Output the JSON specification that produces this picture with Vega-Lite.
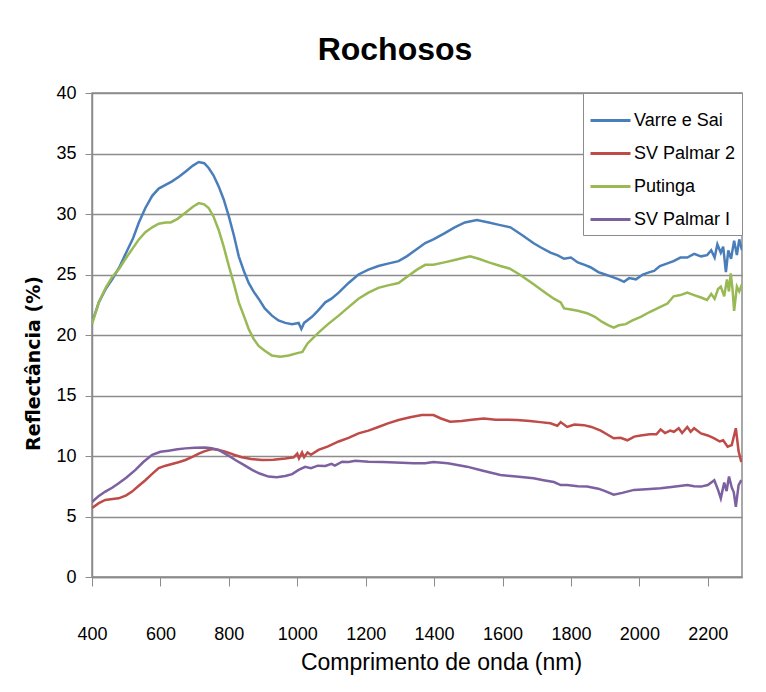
{
  "$schema": "https://vega.github.io/schema/vega-lite/v6.json",
  "width": 650,
  "height": 484,
  "autosize": {"type": "none"},
  "padding": {"left": 92, "top": 93, "right": 24, "bottom": 115},
  "background": "white",
  "title": {
    "text": "Rochosos",
    "font": "Liberation Sans",
    "fontSize": 32,
    "fontWeight": "bold",
    "color": "#000000",
    "dx": -22,
    "offset": 17
  },
  "data": {
    "values": [
      {"s":"Varre e Sai","w":400,"r":21.0},{"s":"Varre e Sai","w":420,"r":22.7},{"s":"Varre e Sai","w":440,"r":23.8},{"s":"Varre e Sai","w":459,"r":24.6},{"s":"Varre e Sai","w":480,"r":25.6},{"s":"Varre e Sai","w":498,"r":26.7},{"s":"Varre e Sai","w":520,"r":28.0},{"s":"Varre e Sai","w":537,"r":29.3},{"s":"Varre e Sai","w":556,"r":30.5},{"s":"Varre e Sai","w":576,"r":31.5},{"s":"Varre e Sai","w":595,"r":32.1},{"s":"Varre e Sai","w":615,"r":32.4},{"s":"Varre e Sai","w":634,"r":32.7},{"s":"Varre e Sai","w":655,"r":33.1},{"s":"Varre e Sai","w":673,"r":33.5},{"s":"Varre e Sai","w":695,"r":34.0},{"s":"Varre e Sai","w":712,"r":34.3},{"s":"Varre e Sai","w":728,"r":34.2},{"s":"Varre e Sai","w":741,"r":33.8},{"s":"Varre e Sai","w":755,"r":33.2},{"s":"Varre e Sai","w":770,"r":32.3},{"s":"Varre e Sai","w":785,"r":31.2},{"s":"Varre e Sai","w":800,"r":29.8},{"s":"Varre e Sai","w":815,"r":28.2},{"s":"Varre e Sai","w":829,"r":26.5},{"s":"Varre e Sai","w":845,"r":25.2},{"s":"Varre e Sai","w":858,"r":24.3},{"s":"Varre e Sai","w":872,"r":23.6},{"s":"Varre e Sai","w":887,"r":23.0},{"s":"Varre e Sai","w":905,"r":22.2},{"s":"Varre e Sai","w":926,"r":21.6},{"s":"Varre e Sai","w":945,"r":21.2},{"s":"Varre e Sai","w":965,"r":21.0},{"s":"Varre e Sai","w":985,"r":20.9},{"s":"Varre e Sai","w":1004,"r":21.0},{"s":"Varre e Sai","w":1012,"r":20.5},{"s":"Varre e Sai","w":1020,"r":21.0},{"s":"Varre e Sai","w":1043,"r":21.5},{"s":"Varre e Sai","w":1060,"r":22.0},{"s":"Varre e Sai","w":1082,"r":22.7},{"s":"Varre e Sai","w":1100,"r":23.0},{"s":"Varre e Sai","w":1121,"r":23.5},{"s":"Varre e Sai","w":1150,"r":24.3},{"s":"Varre e Sai","w":1179,"r":25.0},{"s":"Varre e Sai","w":1208,"r":25.4},{"s":"Varre e Sai","w":1237,"r":25.7},{"s":"Varre e Sai","w":1265,"r":25.9},{"s":"Varre e Sai","w":1296,"r":26.1},{"s":"Varre e Sai","w":1320,"r":26.5},{"s":"Varre e Sai","w":1350,"r":27.1},{"s":"Varre e Sai","w":1374,"r":27.6},{"s":"Varre e Sai","w":1398,"r":27.9},{"s":"Varre e Sai","w":1430,"r":28.4},{"s":"Varre e Sai","w":1460,"r":28.9},{"s":"Varre e Sai","w":1490,"r":29.3},{"s":"Varre e Sai","w":1525,"r":29.5},{"s":"Varre e Sai","w":1560,"r":29.3},{"s":"Varre e Sai","w":1590,"r":29.1},{"s":"Varre e Sai","w":1623,"r":28.9},{"s":"Varre e Sai","w":1660,"r":28.2},{"s":"Varre e Sai","w":1690,"r":27.6},{"s":"Varre e Sai","w":1711,"r":27.25},{"s":"Varre e Sai","w":1740,"r":26.8},{"s":"Varre e Sai","w":1760,"r":26.6},{"s":"Varre e Sai","w":1780,"r":26.3},{"s":"Varre e Sai","w":1800,"r":26.4},{"s":"Varre e Sai","w":1820,"r":26.0},{"s":"Varre e Sai","w":1840,"r":25.8},{"s":"Varre e Sai","w":1857,"r":25.6},{"s":"Varre e Sai","w":1880,"r":25.2},{"s":"Varre e Sai","w":1900,"r":25.0},{"s":"Varre e Sai","w":1920,"r":24.8},{"s":"Varre e Sai","w":1940,"r":24.6},{"s":"Varre e Sai","w":1955,"r":24.4},{"s":"Varre e Sai","w":1970,"r":24.7},{"s":"Varre e Sai","w":1990,"r":24.6},{"s":"Varre e Sai","w":2010,"r":25.0},{"s":"Varre e Sai","w":2030,"r":25.2},{"s":"Varre e Sai","w":2043,"r":25.3},{"s":"Varre e Sai","w":2060,"r":25.7},{"s":"Varre e Sai","w":2080,"r":25.9},{"s":"Varre e Sai","w":2100,"r":26.1},{"s":"Varre e Sai","w":2120,"r":26.4},{"s":"Varre e Sai","w":2140,"r":26.4},{"s":"Varre e Sai","w":2160,"r":26.7},{"s":"Varre e Sai","w":2180,"r":26.5},{"s":"Varre e Sai","w":2198,"r":26.6},{"s":"Varre e Sai","w":2210,"r":27.0},{"s":"Varre e Sai","w":2220,"r":26.4},{"s":"Varre e Sai","w":2228,"r":27.5},{"s":"Varre e Sai","w":2238,"r":26.8},{"s":"Varre e Sai","w":2245,"r":27.3},{"s":"Varre e Sai","w":2253,"r":25.2},{"s":"Varre e Sai","w":2260,"r":27.0},{"s":"Varre e Sai","w":2268,"r":26.3},{"s":"Varre e Sai","w":2277,"r":27.8},{"s":"Varre e Sai","w":2285,"r":26.6},{"s":"Varre e Sai","w":2292,"r":27.9},{"s":"Varre e Sai","w":2300,"r":27.0},
      {"s":"SV Palmar 2","w":400,"r":5.7},{"s":"SV Palmar 2","w":420,"r":6.1},{"s":"SV Palmar 2","w":439,"r":6.37},{"s":"SV Palmar 2","w":460,"r":6.45},{"s":"SV Palmar 2","w":478,"r":6.5},{"s":"SV Palmar 2","w":500,"r":6.75},{"s":"SV Palmar 2","w":517,"r":7.06},{"s":"SV Palmar 2","w":535,"r":7.5},{"s":"SV Palmar 2","w":556,"r":8.0},{"s":"SV Palmar 2","w":575,"r":8.5},{"s":"SV Palmar 2","w":595,"r":9.0},{"s":"SV Palmar 2","w":615,"r":9.2},{"s":"SV Palmar 2","w":634,"r":9.34},{"s":"SV Palmar 2","w":655,"r":9.5},{"s":"SV Palmar 2","w":673,"r":9.67},{"s":"SV Palmar 2","w":695,"r":9.95},{"s":"SV Palmar 2","w":712,"r":10.2},{"s":"SV Palmar 2","w":730,"r":10.4},{"s":"SV Palmar 2","w":751,"r":10.58},{"s":"SV Palmar 2","w":770,"r":10.5},{"s":"SV Palmar 2","w":790,"r":10.36},{"s":"SV Palmar 2","w":815,"r":10.1},{"s":"SV Palmar 2","w":838,"r":9.9},{"s":"SV Palmar 2","w":865,"r":9.75},{"s":"SV Palmar 2","w":897,"r":9.67},{"s":"SV Palmar 2","w":930,"r":9.7},{"s":"SV Palmar 2","w":965,"r":9.8},{"s":"SV Palmar 2","w":990,"r":9.9},{"s":"SV Palmar 2","w":1000,"r":10.2},{"s":"SV Palmar 2","w":1005,"r":9.8},{"s":"SV Palmar 2","w":1014,"r":10.3},{"s":"SV Palmar 2","w":1020,"r":9.9},{"s":"SV Palmar 2","w":1030,"r":10.3},{"s":"SV Palmar 2","w":1040,"r":10.1},{"s":"SV Palmar 2","w":1062,"r":10.5},{"s":"SV Palmar 2","w":1090,"r":10.8},{"s":"SV Palmar 2","w":1121,"r":11.2},{"s":"SV Palmar 2","w":1150,"r":11.5},{"s":"SV Palmar 2","w":1179,"r":11.87},{"s":"SV Palmar 2","w":1208,"r":12.1},{"s":"SV Palmar 2","w":1237,"r":12.4},{"s":"SV Palmar 2","w":1265,"r":12.7},{"s":"SV Palmar 2","w":1296,"r":12.97},{"s":"SV Palmar 2","w":1330,"r":13.2},{"s":"SV Palmar 2","w":1364,"r":13.38},{"s":"SV Palmar 2","w":1398,"r":13.38},{"s":"SV Palmar 2","w":1420,"r":13.1},{"s":"SV Palmar 2","w":1447,"r":12.83},{"s":"SV Palmar 2","w":1480,"r":12.9},{"s":"SV Palmar 2","w":1510,"r":13.0},{"s":"SV Palmar 2","w":1545,"r":13.1},{"s":"SV Palmar 2","w":1580,"r":13.0},{"s":"SV Palmar 2","w":1610,"r":13.0},{"s":"SV Palmar 2","w":1642,"r":12.97},{"s":"SV Palmar 2","w":1680,"r":12.9},{"s":"SV Palmar 2","w":1710,"r":12.8},{"s":"SV Palmar 2","w":1740,"r":12.7},{"s":"SV Palmar 2","w":1760,"r":12.5},{"s":"SV Palmar 2","w":1770,"r":12.8},{"s":"SV Palmar 2","w":1789,"r":12.4},{"s":"SV Palmar 2","w":1810,"r":12.6},{"s":"SV Palmar 2","w":1838,"r":12.55},{"s":"SV Palmar 2","w":1860,"r":12.4},{"s":"SV Palmar 2","w":1887,"r":12.1},{"s":"SV Palmar 2","w":1905,"r":11.8},{"s":"SV Palmar 2","w":1925,"r":11.46},{"s":"SV Palmar 2","w":1945,"r":11.5},{"s":"SV Palmar 2","w":1965,"r":11.3},{"s":"SV Palmar 2","w":1985,"r":11.6},{"s":"SV Palmar 2","w":2004,"r":11.7},{"s":"SV Palmar 2","w":2030,"r":11.8},{"s":"SV Palmar 2","w":2050,"r":11.8},{"s":"SV Palmar 2","w":2062,"r":12.2},{"s":"SV Palmar 2","w":2075,"r":11.9},{"s":"SV Palmar 2","w":2090,"r":12.1},{"s":"SV Palmar 2","w":2101,"r":12.0},{"s":"SV Palmar 2","w":2115,"r":12.3},{"s":"SV Palmar 2","w":2125,"r":11.9},{"s":"SV Palmar 2","w":2140,"r":12.4},{"s":"SV Palmar 2","w":2150,"r":12.0},{"s":"SV Palmar 2","w":2160,"r":12.3},{"s":"SV Palmar 2","w":2180,"r":11.87},{"s":"SV Palmar 2","w":2200,"r":11.7},{"s":"SV Palmar 2","w":2219,"r":11.46},{"s":"SV Palmar 2","w":2235,"r":11.2},{"s":"SV Palmar 2","w":2245,"r":11.3},{"s":"SV Palmar 2","w":2258,"r":10.77},{"s":"SV Palmar 2","w":2270,"r":10.9},{"s":"SV Palmar 2","w":2282,"r":12.3},{"s":"SV Palmar 2","w":2290,"r":10.4},{"s":"SV Palmar 2","w":2298,"r":9.5},
      {"s":"Putinga","w":400,"r":20.9},{"s":"Putinga","w":420,"r":22.7},{"s":"Putinga","w":440,"r":23.9},{"s":"Putinga","w":459,"r":24.8},{"s":"Putinga","w":480,"r":25.5},{"s":"Putinga","w":498,"r":26.3},{"s":"Putinga","w":520,"r":27.2},{"s":"Putinga","w":537,"r":27.9},{"s":"Putinga","w":556,"r":28.5},{"s":"Putinga","w":576,"r":28.9},{"s":"Putinga","w":595,"r":29.2},{"s":"Putinga","w":615,"r":29.3},{"s":"Putinga","w":630,"r":29.3},{"s":"Putinga","w":650,"r":29.6},{"s":"Putinga","w":673,"r":30.1},{"s":"Putinga","w":695,"r":30.6},{"s":"Putinga","w":712,"r":30.9},{"s":"Putinga","w":728,"r":30.8},{"s":"Putinga","w":741,"r":30.5},{"s":"Putinga","w":755,"r":29.8},{"s":"Putinga","w":770,"r":28.7},{"s":"Putinga","w":785,"r":27.3},{"s":"Putinga","w":800,"r":25.7},{"s":"Putinga","w":815,"r":24.2},{"s":"Putinga","w":829,"r":22.7},{"s":"Putinga","w":845,"r":21.5},{"s":"Putinga","w":858,"r":20.5},{"s":"Putinga","w":872,"r":19.7},{"s":"Putinga","w":887,"r":19.1},{"s":"Putinga","w":905,"r":18.7},{"s":"Putinga","w":926,"r":18.3},{"s":"Putinga","w":950,"r":18.2},{"s":"Putinga","w":975,"r":18.3},{"s":"Putinga","w":1000,"r":18.5},{"s":"Putinga","w":1015,"r":18.6},{"s":"Putinga","w":1030,"r":19.3},{"s":"Putinga","w":1062,"r":20.2},{"s":"Putinga","w":1090,"r":20.9},{"s":"Putinga","w":1121,"r":21.6},{"s":"Putinga","w":1150,"r":22.3},{"s":"Putinga","w":1179,"r":23.0},{"s":"Putinga","w":1208,"r":23.5},{"s":"Putinga","w":1237,"r":23.9},{"s":"Putinga","w":1265,"r":24.1},{"s":"Putinga","w":1296,"r":24.3},{"s":"Putinga","w":1320,"r":24.8},{"s":"Putinga","w":1350,"r":25.4},{"s":"Putinga","w":1374,"r":25.8},{"s":"Putinga","w":1398,"r":25.8},{"s":"Putinga","w":1430,"r":26.0},{"s":"Putinga","w":1460,"r":26.2},{"s":"Putinga","w":1490,"r":26.4},{"s":"Putinga","w":1505,"r":26.5},{"s":"Putinga","w":1530,"r":26.3},{"s":"Putinga","w":1560,"r":26.0},{"s":"Putinga","w":1594,"r":25.7},{"s":"Putinga","w":1620,"r":25.5},{"s":"Putinga","w":1650,"r":25.0},{"s":"Putinga","w":1691,"r":24.2},{"s":"Putinga","w":1720,"r":23.6},{"s":"Putinga","w":1750,"r":23.0},{"s":"Putinga","w":1770,"r":22.7},{"s":"Putinga","w":1780,"r":22.2},{"s":"Putinga","w":1800,"r":22.1},{"s":"Putinga","w":1820,"r":22.0},{"s":"Putinga","w":1847,"r":21.8},{"s":"Putinga","w":1870,"r":21.5},{"s":"Putinga","w":1890,"r":21.1},{"s":"Putinga","w":1910,"r":20.8},{"s":"Putinga","w":1925,"r":20.6},{"s":"Putinga","w":1940,"r":20.8},{"s":"Putinga","w":1960,"r":20.9},{"s":"Putinga","w":1980,"r":21.2},{"s":"Putinga","w":2004,"r":21.5},{"s":"Putinga","w":2030,"r":21.9},{"s":"Putinga","w":2060,"r":22.3},{"s":"Putinga","w":2082,"r":22.6},{"s":"Putinga","w":2100,"r":23.2},{"s":"Putinga","w":2120,"r":23.3},{"s":"Putinga","w":2140,"r":23.5},{"s":"Putinga","w":2160,"r":23.3},{"s":"Putinga","w":2180,"r":23.1},{"s":"Putinga","w":2198,"r":22.9},{"s":"Putinga","w":2210,"r":23.4},{"s":"Putinga","w":2220,"r":23.0},{"s":"Putinga","w":2230,"r":23.8},{"s":"Putinga","w":2238,"r":24.0},{"s":"Putinga","w":2248,"r":23.2},{"s":"Putinga","w":2256,"r":24.6},{"s":"Putinga","w":2262,"r":23.6},{"s":"Putinga","w":2267,"r":25.1},{"s":"Putinga","w":2272,"r":23.9},{"s":"Putinga","w":2277,"r":22.0},{"s":"Putinga","w":2285,"r":24.0},{"s":"Putinga","w":2292,"r":23.6},{"s":"Putinga","w":2300,"r":24.2},
      {"s":"SV Palmar I","w":400,"r":6.2},{"s":"SV Palmar I","w":420,"r":6.7},{"s":"SV Palmar I","w":439,"r":7.06},{"s":"SV Palmar I","w":460,"r":7.4},{"s":"SV Palmar I","w":478,"r":7.75},{"s":"SV Palmar I","w":500,"r":8.2},{"s":"SV Palmar I","w":527,"r":8.85},{"s":"SV Palmar I","w":550,"r":9.5},{"s":"SV Palmar I","w":576,"r":10.1},{"s":"SV Palmar I","w":600,"r":10.35},{"s":"SV Palmar I","w":624,"r":10.44},{"s":"SV Palmar I","w":650,"r":10.55},{"s":"SV Palmar I","w":673,"r":10.63},{"s":"SV Palmar I","w":700,"r":10.68},{"s":"SV Palmar I","w":731,"r":10.7},{"s":"SV Palmar I","w":750,"r":10.65},{"s":"SV Palmar I","w":770,"r":10.5},{"s":"SV Palmar I","w":795,"r":10.1},{"s":"SV Palmar I","w":819,"r":9.67},{"s":"SV Palmar I","w":845,"r":9.25},{"s":"SV Palmar I","w":868,"r":8.85},{"s":"SV Palmar I","w":890,"r":8.55},{"s":"SV Palmar I","w":916,"r":8.3},{"s":"SV Palmar I","w":940,"r":8.25},{"s":"SV Palmar I","w":965,"r":8.35},{"s":"SV Palmar I","w":985,"r":8.5},{"s":"SV Palmar I","w":1004,"r":8.85},{"s":"SV Palmar I","w":1023,"r":9.1},{"s":"SV Palmar I","w":1040,"r":9.0},{"s":"SV Palmar I","w":1060,"r":9.2},{"s":"SV Palmar I","w":1082,"r":9.18},{"s":"SV Palmar I","w":1100,"r":9.35},{"s":"SV Palmar I","w":1110,"r":9.2},{"s":"SV Palmar I","w":1131,"r":9.53},{"s":"SV Palmar I","w":1150,"r":9.5},{"s":"SV Palmar I","w":1170,"r":9.6},{"s":"SV Palmar I","w":1208,"r":9.53},{"s":"SV Palmar I","w":1250,"r":9.5},{"s":"SV Palmar I","w":1306,"r":9.45},{"s":"SV Palmar I","w":1340,"r":9.4},{"s":"SV Palmar I","w":1374,"r":9.4},{"s":"SV Palmar I","w":1398,"r":9.5},{"s":"SV Palmar I","w":1440,"r":9.4},{"s":"SV Palmar I","w":1496,"r":9.12},{"s":"SV Palmar I","w":1540,"r":8.8},{"s":"SV Palmar I","w":1594,"r":8.43},{"s":"SV Palmar I","w":1640,"r":8.3},{"s":"SV Palmar I","w":1691,"r":8.16},{"s":"SV Palmar I","w":1720,"r":8.0},{"s":"SV Palmar I","w":1750,"r":7.85},{"s":"SV Palmar I","w":1770,"r":7.6},{"s":"SV Palmar I","w":1789,"r":7.6},{"s":"SV Palmar I","w":1820,"r":7.5},{"s":"SV Palmar I","w":1847,"r":7.47},{"s":"SV Palmar I","w":1880,"r":7.3},{"s":"SV Palmar I","w":1900,"r":7.1},{"s":"SV Palmar I","w":1925,"r":6.8},{"s":"SV Palmar I","w":1950,"r":6.95},{"s":"SV Palmar I","w":1984,"r":7.2},{"s":"SV Palmar I","w":2020,"r":7.25},{"s":"SV Palmar I","w":2062,"r":7.33},{"s":"SV Palmar I","w":2100,"r":7.45},{"s":"SV Palmar I","w":2140,"r":7.6},{"s":"SV Palmar I","w":2160,"r":7.5},{"s":"SV Palmar I","w":2180,"r":7.47},{"s":"SV Palmar I","w":2200,"r":7.6},{"s":"SV Palmar I","w":2219,"r":8.0},{"s":"SV Palmar I","w":2230,"r":7.2},{"s":"SV Palmar I","w":2238,"r":6.5},{"s":"SV Palmar I","w":2248,"r":7.8},{"s":"SV Palmar I","w":2255,"r":7.1},{"s":"SV Palmar I","w":2262,"r":8.3},{"s":"SV Palmar I","w":2270,"r":7.4},{"s":"SV Palmar I","w":2276,"r":7.0},{"s":"SV Palmar I","w":2282,"r":5.8},{"s":"SV Palmar I","w":2290,"r":7.6},{"s":"SV Palmar I","w":2298,"r":8.0}
    ]
  },
  "mark": {"type": "line", "strokeWidth": 2.5, "clip": true},
  "encoding": {
    "x": {
      "field": "w",
      "type": "quantitative",
      "scale": {"domain": [400, 2300], "nice": false, "zero": false},
      "axis": {
        "title": "Comprimento de onda (nm)",
        "values": [400, 600, 800, 1000, 1200, 1400, 1600, 1800, 2000, 2200],
        "format": "d",
        "grid": false,
        "labelFlush": false,
        "domainColor": "#8c8c8c",
        "domainWidth": 1.5,
        "tickColor": "#8c8c8c",
        "tickSize": 9,
        "labelPadding": 39,
        "labelFontSize": 18,
        "titleFontSize": 23,
        "titlePadding": 8,
        "titleX": 349
      }
    },
    "y": {
      "field": "r",
      "type": "quantitative",
      "scale": {"domain": [0, 40], "nice": false},
      "axis": {
        "title": "Reflectância (%)",
        "values": [0, 5, 10, 15, 20, 25, 30, 35, 40],
        "grid": true,
        "gridColor": "#8c8c8c",
        "gridWidth": 1.5,
        "domainColor": "#8c8c8c",
        "domainWidth": 1.5,
        "tickColor": "#8c8c8c",
        "tickSize": 7,
        "labelPadding": 9,
        "labelFontSize": 18,
        "titleFont": "DejaVu Sans",
        "titleFontWeight": "bold",
        "titleFontSize": 19,
        "titlePadding": 12,
        "titleY": 270
      }
    },
    "color": {
      "field": "s",
      "type": "nominal",
      "scale": {
        "domain": ["Varre e Sai", "SV Palmar 2", "Putinga", "SV Palmar I"],
        "range": ["#4a7ebb", "#be4b48", "#98b954", "#7d60a0"]
      },
      "legend": {
        "title": null,
        "orient": "top-right",
        "offset": 0,
        "padding": 6,
        "fillColor": "white",
        "strokeColor": "#8c8c8c",
        "symbolType": "stroke",
        "symbolSize": 1600,
        "symbolStrokeWidth": 3,
        "labelFontSize": 18,
        "labelColor": "#000000",
        "rowPadding": 2,
        "labelOffset": 2
      }
    }
  },
  "config": {
    "font": "Liberation Sans",
    "view": {"stroke": "#8c8c8c", "strokeWidth": 1.5},
    "axis": {
      "labelColor": "#000000",
      "titleColor": "#000000",
      "labelFont": "Liberation Sans",
      "titleFont": "Liberation Sans",
      "titleFontWeight": "normal"
    },
    "legend": {"labelFont": "Liberation Sans"}
  }
}
